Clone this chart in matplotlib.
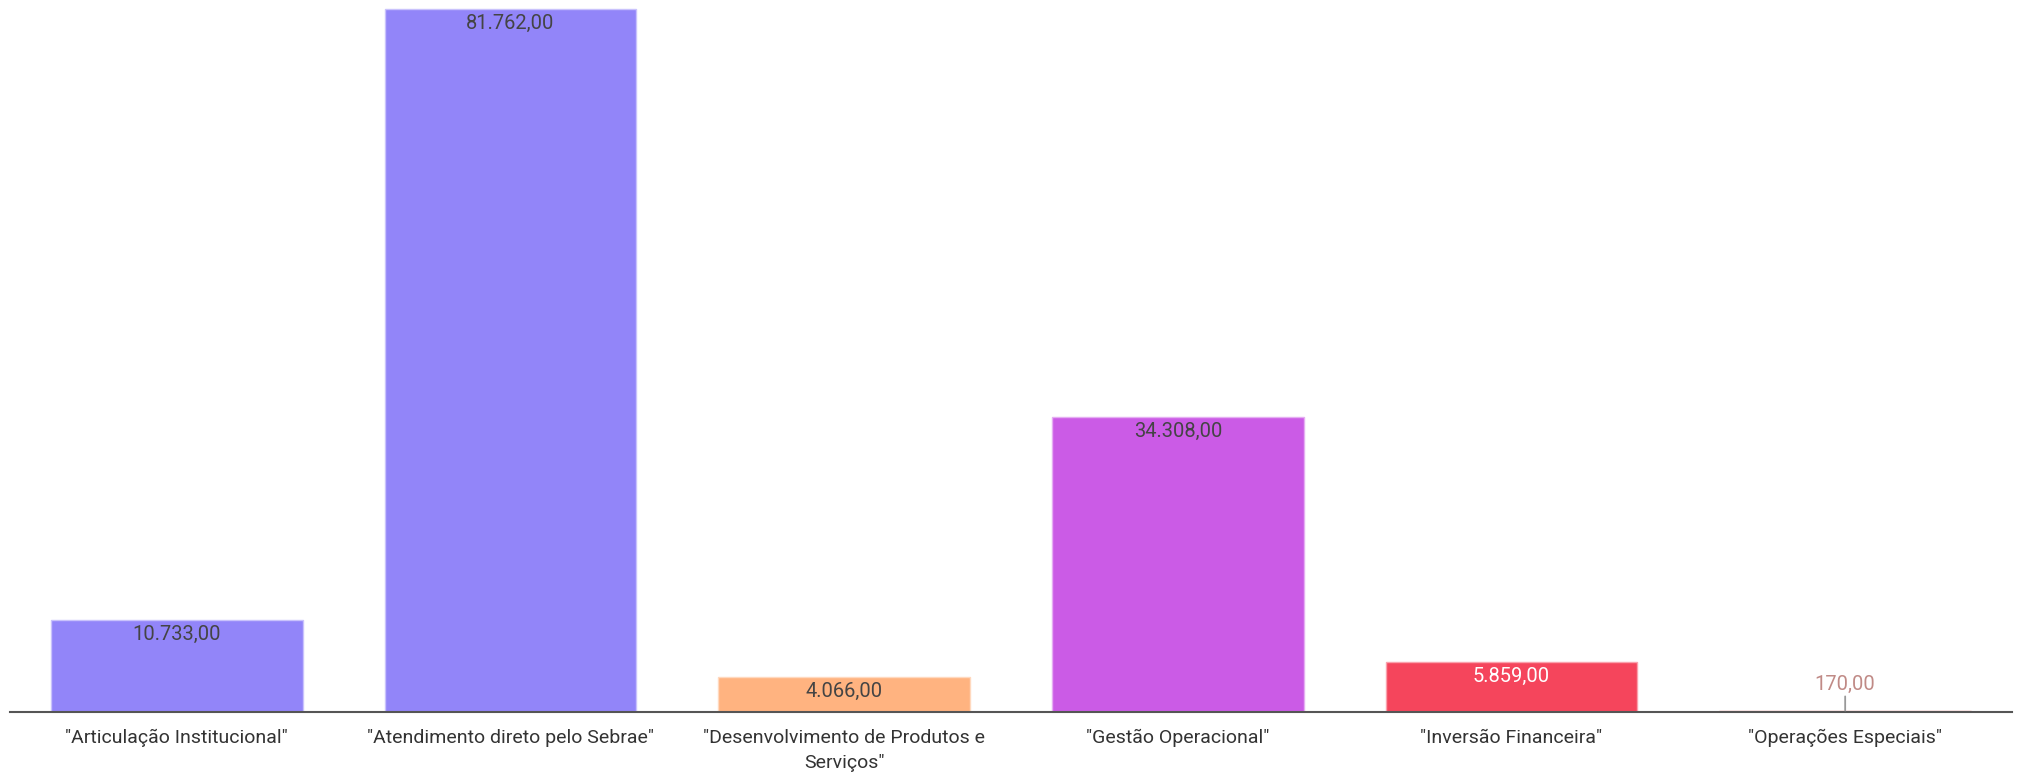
import matplotlib.pyplot as plt
import numpy as np

# -------------------------------------
# Data
# -------------------------------------
categories = [
    '"Articulação Institucional"',
    '"Atendimento direto pelo Sebrae"',
    '"Desenvolvimento de Produtos e\nServiços"',
    '"Gestão Operacional"',
    '"Inversão Financeira"',
    '"Operações Especiais"',
]
values = [10733.00, 81762.00, 4066.00, 34308.00, 5859.00, 170.00]
colors = ["#9285F9", "#9285F9", "#FFB380", "#CB5BE6", "#F5455C", "#F28B8B"]
edge_colors = ["#C9C2FC", "#C9C2FC", "#FFD9BF", "#E5ADF2", "#FAA2AD", "#F28B8B"]
label_colors = ["#444444", "#444444", "#444444", "#444444", "#FFFFFF", "#C08A86"]


def fmt_br(v):
    s = f"{v:,.2f}"
    return s.replace(",", "X").replace(".", ",").replace("X", ".")


plt.rcParams['font.family'] = ['Roboto', 'DejaVu Sans']

fig = plt.figure(figsize=(20.22, 7.77), dpi=100)
ax = fig.add_axes([10 / 2022, 65 / 777, 2002 / 2022, 712 / 777])

x = np.arange(len(categories))
bars = ax.bar(x, values, width=0.755, color=colors, edgecolor=edge_colors, linewidth=1.0)

ax.set_xlim(-0.5, len(categories) - 0.5)
ax.set_ylim(0, 82809)

# value labels (small values go above the bar with a leader line)
for i, (xi, v) in enumerate(zip(x, values)):
    if v < 2000:
        ax.annotate(fmt_br(v), xy=(xi, v), xytext=(0, 19), textcoords="offset points",
                    ha="center", va="center", fontsize=14.5, color=label_colors[i],
                    arrowprops=dict(arrowstyle="-", color="#999999", lw=1.3,
                                    shrinkA=0, shrinkB=0))
    else:
        ax.annotate(fmt_br(v), xy=(xi, v), xytext=(0, -10.5), textcoords="offset points",
                    ha="center", va="center", fontsize=14.5, color=label_colors[i])

ax.set_xticks(x)
ax.set_xticklabels(categories, fontsize=14, color="#333333", linespacing=1.5)
ax.tick_params(axis="x", length=0, pad=12)
ax.set_yticks([])
for side in ["top", "right", "left"]:
    ax.spines[side].set_visible(False)
ax.spines["bottom"].set_color("#555555")
ax.spines["bottom"].set_linewidth(1.5)

fig.savefig("out.png", dpi=100)
